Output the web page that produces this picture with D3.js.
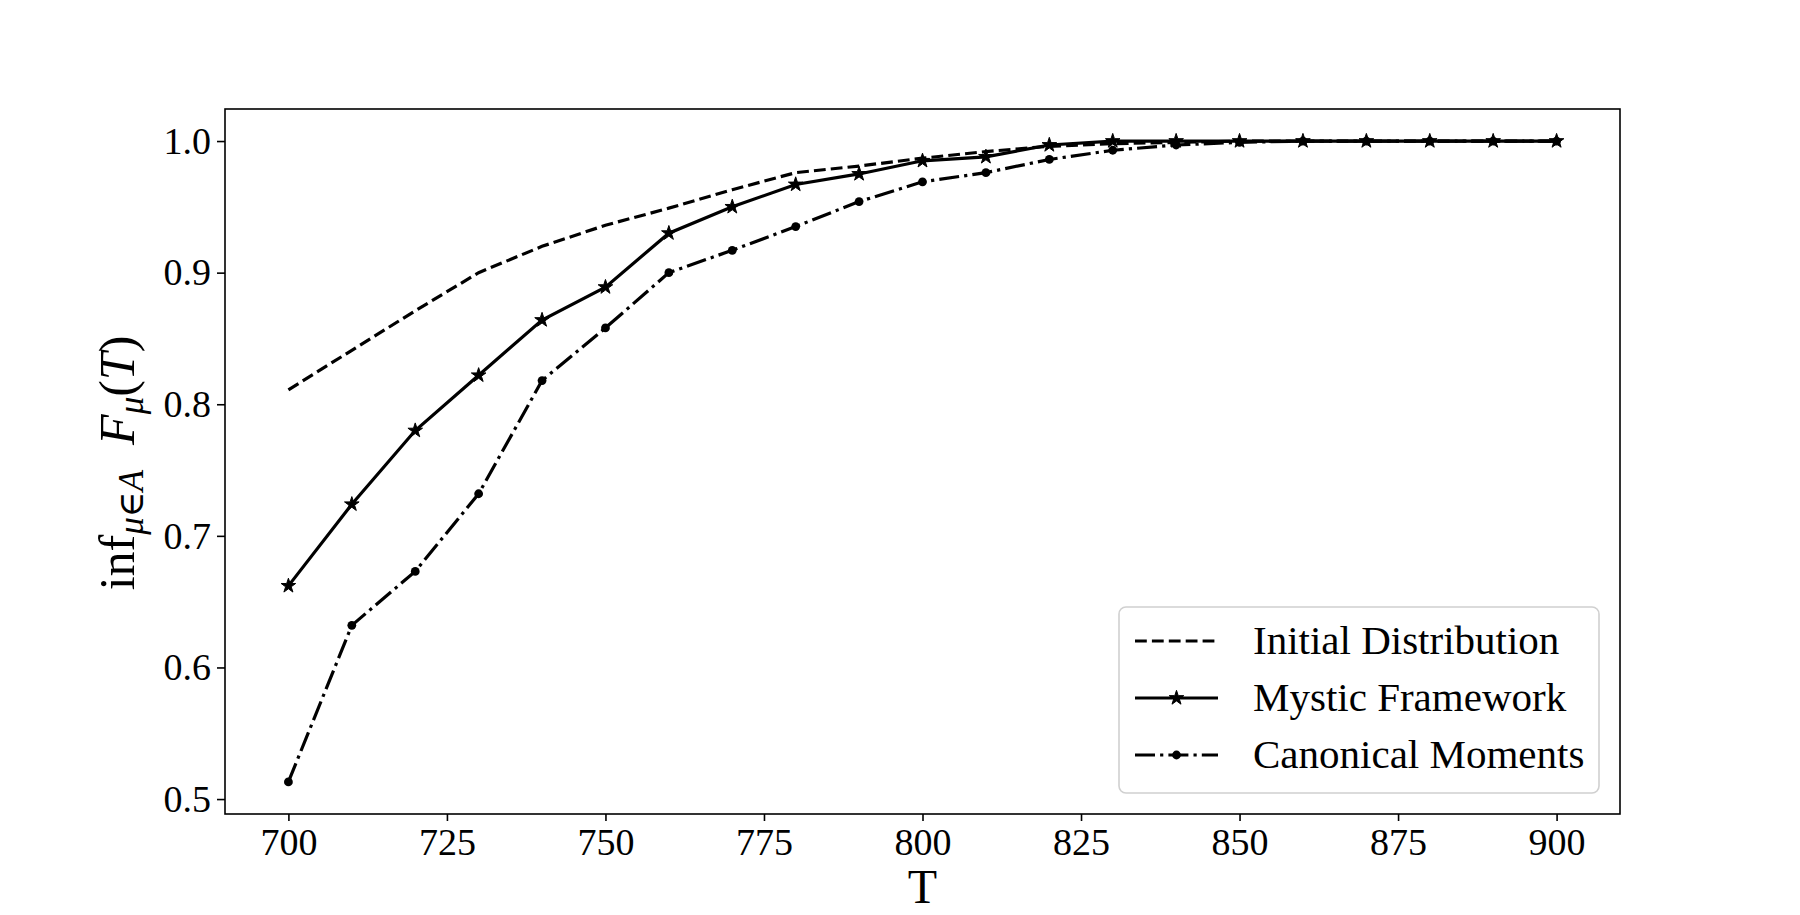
<html>
<head>
<meta charset="utf-8">
<script src="https://d3js.org/d3.v7.min.js"></script>
<style>
  body { margin: 0; background: white; }
  text { font-family: "Liberation Serif", "DejaVu Serif", serif; fill: black; }
</style>
</head>
<body>
<div id="graph"></div>
<script>
// T values on the x axis
const T = [700, 710, 720, 730, 740, 750, 760, 770, 780, 790, 800,
           810, 820, 830, 840, 850, 860, 870, 880, 890, 900];

// inf over mu of F_mu(T)
const initialDist = [0.811, 0.841, 0.871, 0.900, 0.920, 0.936, 0.949, 0.963, 0.976, 0.981, 0.987,
                     0.992, 0.996, 0.998, 0.999, 1.0, 1.0, 1.0, 1.0, 1.0, 1.0];
const mystic = [0.662, 0.724, 0.780, 0.822, 0.864, 0.889, 0.930, 0.950, 0.967, 0.975, 0.985,
                0.988, 0.997, 1.0, 1.0, 1.0, 1.0, 1.0, 1.0, 1.0, 1.0];
const canonical = [0.513, 0.632, 0.673, 0.732, 0.818, 0.858, 0.900, 0.917, 0.935, 0.954, 0.969,
                   0.976, 0.986, 0.993, 0.997, 0.999, 1.0, 1.0, 1.0, 1.0, 1.0];

const xTicks = [700, 725, 750, 775, 800, 825, 850, 875, 900];
const yTicks = [0.5, 0.6, 0.7, 0.8, 0.9, 1.0];
const seriesNames = ['Initial Distribution', 'Mystic Framework', 'Canonical Moments'];

// figure and axes box
const W = 1800, H = 915;
const margin = {top: 109, right: 180, bottom: 101, left: 225};
const width = W - margin.left - margin.right,
      height = H - margin.top - margin.bottom;

const svg = d3.select('#graph').append('svg')
  .attr('width', W).attr('height', H);

const g = svg.append('g')
  .attr('transform', 'translate(' + margin.left + ',' + margin.top + ')');

// matplotlib style 5% margins
const xPad = (d3.max(T) - d3.min(T)) * 0.05;
const allY = initialDist.concat(mystic, canonical);
const yPad = (d3.max(allY) - d3.min(allY)) * 0.05;

const x = d3.scaleLinear()
  .domain([d3.min(T) - xPad, d3.max(T) + xPad])
  .range([0, width]);
const y = d3.scaleLinear()
  .domain([d3.min(allY) - yPad, d3.max(allY) + yPad])
  .range([height, 0]);

// axes
const xAxis = g.append('g')
  .attr('transform', 'translate(0,' + height + ')')
  .call(d3.axisBottom(x).tickValues(xTicks).tickSize(7).tickPadding(6).tickSizeOuter(0));
const yAxis = g.append('g')
  .call(d3.axisLeft(y).tickValues(yTicks).tickFormat(d3.format('.1f')).tickSize(8).tickPadding(6).tickSizeOuter(0));

[xAxis, yAxis].forEach(function (a) {
  a.select('.domain').remove();
  a.selectAll('line').attr('stroke', 'black').attr('stroke-width', 1.6);
  a.selectAll('text').attr('font-size', 38)
    .attr('font-family', '"Liberation Serif", serif').attr('fill', 'black');
});
xAxis.selectAll('text').attr('dy', '0.74em');

// lines
const line = d3.line()
  .x(function (d) { return x(d[0]); })
  .y(function (d) { return y(d[1]); });

const series = [
  {name: seriesNames[0], values: initialDist, dash: '11.8,5.1', marker: null},
  {name: seriesNames[1], values: mystic, dash: null, marker: 'star'},
  {name: seriesNames[2], values: canonical, dash: '20,5.1,3.2,5.1', marker: 'dot'}
];

const star = d3.symbol().type(d3.symbolStar).size(66);

series.forEach(function (s) {
  const pts = T.map(function (t, i) { return [t, s.values[i]]; });
  g.append('path')
    .datum(pts)
    .attr('d', line)
    .attr('fill', 'none')
    .attr('stroke', 'black')
    .attr('stroke-width', 3.2)
    .attr('stroke-dasharray', s.dash);
  if (s.marker === 'star') {
    g.append('g').selectAll('path').data(pts).enter().append('path')
      .attr('d', star)
      .attr('transform', function (d) { return 'translate(' + x(d[0]) + ',' + y(d[1]) + ')'; })
      .attr('fill', 'black').attr('stroke', 'black').attr('stroke-width', 1);
  } else if (s.marker === 'dot') {
    g.append('g').selectAll('circle').data(pts).enter().append('circle')
      .attr('cx', function (d) { return x(d[0]); })
      .attr('cy', function (d) { return y(d[1]); })
      .attr('r', 4.4)
      .attr('fill', 'black');
  }
});

// frame
g.append('rect')
  .attr('width', width).attr('height', height)
  .attr('fill', 'none').attr('stroke', 'black').attr('stroke-width', 1.6);

// x label
svg.append('text')
  .attr('x', margin.left + width / 2).attr('y', 903)
  .attr('text-anchor', 'middle').attr('font-size', 48)
  .text('T');

// y label: inf_{mu in A} F_mu(T)
const yl = svg.append('text')
  .attr('transform', 'translate(134,463) rotate(-90)')
  .attr('text-anchor', 'middle').attr('font-size', 50);
yl.append('tspan').text('inf');
yl.append('tspan').attr('font-size', 35).attr('font-style', 'italic').attr('dy', 9).text('μ');
yl.append('tspan').attr('font-size', 35).text('∈');
yl.append('tspan').attr('font-size', 35).attr('font-style', 'italic').text('A');
yl.append('tspan').attr('dy', -9).text('\u2002');
yl.append('tspan').attr('font-style', 'italic').text('F');
yl.append('tspan').attr('font-size', 35).attr('font-style', 'italic').attr('dy', 9).text('μ');
yl.append('tspan').attr('dy', -9).text('(');
yl.append('tspan').attr('font-style', 'italic').text('T');
yl.append('tspan').text(')');

// legend
const leg = svg.append('g').attr('transform', 'translate(1119,607)');
leg.append('rect')
  .attr('width', 480).attr('height', 186).attr('rx', 7)
  .attr('fill', 'white').attr('fill-opacity', 0.8)
  .attr('stroke', '#d0d0d0').attr('stroke-width', 1.6);

series.forEach(function (s, i) {
  const ry = 34 + i * 57;
  leg.append('line')
    .attr('x1', 16).attr('x2', 99).attr('y1', ry).attr('y2', ry)
    .attr('stroke', 'black').attr('stroke-width', 3.2)
    .attr('stroke-dasharray', s.dash);
  if (s.marker === 'star') {
    leg.append('path').attr('d', star)
      .attr('transform', 'translate(57.5,' + ry + ')')
      .attr('fill', 'black').attr('stroke', 'black').attr('stroke-width', 1);
  } else if (s.marker === 'dot') {
    leg.append('circle').attr('cx', 57.5).attr('cy', ry).attr('r', 4.4).attr('fill', 'black');
  }
  leg.append('text')
    .attr('x', 134).attr('y', ry + 13)
    .attr('font-size', 41)
    .text(s.name);
});
</script>
</body>
</html>
